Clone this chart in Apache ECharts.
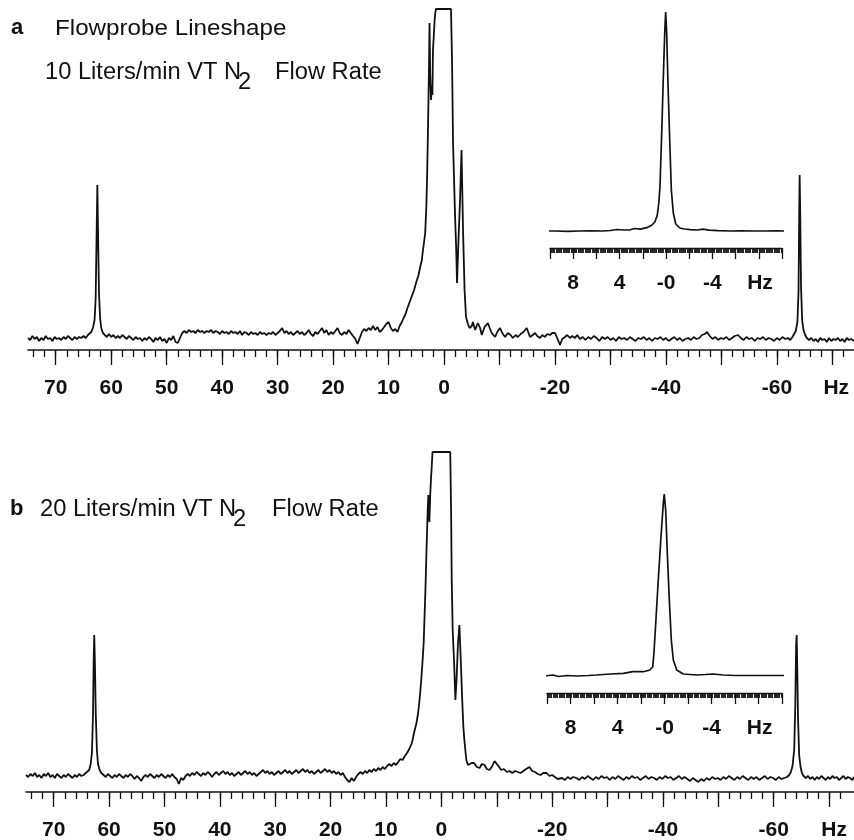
<!DOCTYPE html>
<html>
<head>
<meta charset="utf-8">
<script src="https://cdn.jsdelivr.net/npm/echarts@6/dist/echarts.min.js"></script>
<style>
html,body{margin:0;padding:0;background:#fff;}
#chart{width:854px;height:840px;}
</style>
</head>
<body>
<div id="chart"></div>
<script>
// ---------- data (Hz, intensity above baseline) ----------
const specA = [
[75.0,-2],[74.6,-4],[74.2,0],[73.8,-3],[73.4,-1],[73.0,-5],[72.6,-2],[72.2,-4],[71.8,0],[71.4,-3],[71.0,-2],[70.6,-5],[70.2,-1],[69.8,-3],[69.4,-2],[69.0,-4],[68.6,-1],[68.2,-3],[67.8,0],[67.4,-2],[67.0,-4],[66.6,-1],[66.2,-3],[65.8,-1],[65.4,-2],[65.0,0],[64.6,-2],[64.2,1],[63.9,2],
[63.6,4],[63.3,8],[63.0,16],[62.8,38],[62.65,95],[62.5,151],[62.38,105],[62.2,42],[62.0,18],[61.8,8],[61.5,3],
[61.2,1],[60.8,-1],[60.4,2],[60.0,-1],[59.6,1],[59.2,-2],[58.8,0],[58.4,-2],[58.0,1],[57.6,-1],[57.2,-3],[56.8,0],[56.4,-2],[56.0,-4],[55.6,-1],[55.2,-3],[54.8,-2],[54.4,-5],[54.0,-2],[53.6,-4],[53.2,-1],[52.8,-3],[52.4,-6],[52.0,-2],[51.6,-4],[51.2,-1],[50.8,-5],[50.4,-3],[50.0,-7],[49.6,-2],[49.2,-4],[48.8,0],[48.4,-6],[48.0,-7],[47.6,-2],[47.2,3],
[46.8,5],[46.4,3],[46.0,6],[45.6,4],[45.2,5],[44.8,3],[44.4,6],[44.0,4],[43.6,5],[43.2,3],[42.8,5],[42.4,4],[42.0,6],[41.6,3],[41.2,5],[40.8,4],[40.4,2],[40.0,5],[39.6,3],[39.2,4],[38.8,2],[38.4,5],[38.0,3],[37.6,4],[37.2,2],[36.8,5],[36.4,1],[36.0,4],[35.6,3],[35.2,1],[34.8,4],[34.4,2],[34.0,3],[33.6,1],[33.2,4],[32.8,2],[32.4,3],[32.0,1],[31.6,3],[31.2,2],[30.8,4],[30.4,1],[30.0,3],[29.6,5],[29.2,8],[28.8,3],[28.4,5],[28.0,2],[27.6,4],[27.2,1],[26.8,3],[26.4,5],[26.0,2],[25.6,4],[25.2,1],[24.8,3],[24.4,6],[24.0,2],[23.6,0],[23.2,4],[22.8,2],[22.4,5],[22.0,8],[21.6,3],[21.2,6],[20.8,1],[20.4,4],[20.0,2],[19.6,5],[19.2,8],[18.8,3],[18.4,1],[18.0,4],[17.6,2],[17.2,6],[16.8,3],[16.4,0],[16.0,-3],[15.6,-8],[15.2,-2],[14.8,4],[14.4,7],[14.0,5],[13.6,8],[13.2,6],[12.8,10],[12.4,6],[12.0,9],[11.6,4],[11.2,6],[10.8,9],[10.4,12],[10.0,14],[9.6,8],[9.2,5],[8.8,7],[8.4,4],[8.0,10],[7.6,14],[7.3,18],[7.0,21],[6.6,28],[6.2,34],[5.8,40],[5.4,46],[5.0,54],[4.6,61],[4.3,69],[4.0,76],[3.8,86],[3.6,94],[3.4,103],[3.2,128],[3.05,160],[2.9,205],[2.8,240],[2.7,275],[2.62,313],[2.5,262],[2.35,236],[2.2,250],[2.1,241],[2.0,286],[1.85,300],[1.7,316],[1.55,324],[1.45,327],
[-1.25,327],[-1.44,276],[-1.62,193],[-1.98,121],[-2.2,85],[-2.34,53],[-2.6,96],[-2.88,136],[-3.15,186],[-3.42,106],[-3.7,46],[-3.96,19],[-4.3,12],[-4.6,8],[-5.0,10],[-5.2,14],[-5.6,6],[-5.9,4],[-6.1,13],[-6.5,8],[-6.8,1],[-7.3,9],[-7.9,13],[-8.3,7],[-8.6,3],[-9.2,-1],[-9.6,4],[-10.1,8],[-10.5,3],[-11.0,-1],[-11.5,3],[-12.0,1],[-12.4,-2],[-12.9,1],[-13.3,-1],[-13.8,2],[-14.3,4],[-14.9,8],[-15.3,2],[-15.5,-1],[-16.0,1],[-16.4,3],[-16.8,0],[-17.3,-2],[-17.7,1],[-18.2,-1],[-18.6,2],[-19.1,1],[-19.5,3],[-20.0,3],[-20.4,-2],[-20.9,-9],[-21.3,-3],[-21.8,-1],[-22.2,1],[-22.7,-2],[-23.1,0],[-23.6,-2],[-24.0,1],[-24.5,-3],[-25.0,-1],[-25.5,-4],[-26.0,-1],[-26.5,-3],[-27.0,0],[-27.5,-2],[-28.0,-5],[-28.5,-1],[-29.0,-3],[-29.5,-1],[-30.0,-4],[-30.5,-2],[-31.0,-5],[-31.5,-1],[-32.0,-3],[-32.5,-2],[-33.0,-4],[-33.5,-1],[-34.0,-3],[-34.5,-5],[-35.0,-2],[-35.5,-3],[-36.0,-1],[-36.5,-4],[-37.0,-2],[-37.5,-5],[-38.0,-2],[-38.5,-3],[-39.0,-1],[-39.5,-4],[-40.0,-2],[-40.5,-5],[-41.0,-3],[-41.5,-1],[-42.0,-4],[-42.5,-2],[-43.0,-5],[-43.5,-3],[-44.0,-2],[-44.5,-4],[-45.0,-1],[-45.5,-3],[-46.0,-2],[-46.5,1],[-47.0,2],[-47.4,4],[-47.9,0],[-48.4,-3],[-48.9,-1],[-49.4,-4],[-49.9,-2],[-50.4,-3],[-50.9,-1],[-51.4,-4],[-51.9,-2],[-52.4,0],[-53.0,1],[-53.5,-2],[-54.0,-4],[-54.5,-1],[-55.0,-3],[-55.5,-2],[-56.0,-5],[-56.5,-2],[-57.0,-3],[-57.5,-1],[-58.0,-4],[-58.5,-2],[-59.0,-3],[-59.5,-5],[-60.0,-2],[-60.5,-4],[-61.0,-1],[-61.5,-3],[-62.0,-2],[-62.4,-4],[-62.8,-1],[-63.1,1],[-63.4,5],[-63.7,14],[-63.9,45],[-64.02,120],[-64.1,161],[-64.2,125],[-64.35,50],[-64.55,16],[-64.8,6],[-65.1,1],[-65.4,-2],[-65.8,-4],[-66.2,-2],[-66.6,-5],[-67.0,-3],[-67.4,-6],[-67.8,-2],[-68.2,-4],[-68.6,-3],[-69.0,-6],[-69.4,-2],[-69.8,-5],[-70.2,-3],[-70.6,-4],[-71.0,-2],[-71.4,-5],[-71.8,-3],[-72.2,-6],[-72.6,-2],[-73.0,-4],[-73.4,-3],[-73.9,-5]
];

const specB = [
[75.0,0],[74.6,-2],[74.2,1],[73.8,-1],[73.4,2],[73.0,-2],[72.6,0],[72.2,-3],[71.8,1],[71.4,-1],[71.0,2],[70.6,-2],[70.2,0],[69.8,-3],[69.4,1],[69.0,-1],[68.6,-3],[68.2,0],[67.8,-2],[67.4,1],[67.0,-1],[66.6,-3],[66.2,0],[65.8,-2],[65.4,1],[65.0,-1],[64.6,0],[64.2,2],[63.9,3],
[63.6,5],[63.35,10],[63.1,22],[62.9,60],[62.78,115],[62.68,140],[62.55,110],[62.4,60],[62.2,25],[62.0,11],[61.7,5],[61.4,2],
[61.0,0],[60.6,-2],[60.2,1],[59.8,-1],[59.4,-3],[59.0,0],[58.6,-2],[58.2,1],[57.8,-1],[57.4,-3],[57.0,0],[56.6,-2],[56.2,1],[55.8,-1],[55.4,-4],[55.0,-1],[54.6,-3],[54.2,-6],[53.8,-2],[53.4,0],[53.0,-2],[52.6,1],[52.2,-1],[51.8,-3],[51.4,0],[51.0,-2],[50.6,1],[50.2,-1],[49.8,-3],[49.4,0],[49.0,-2],[48.6,1],[48.2,-2],[47.8,-4],[47.4,-9],[47.0,-3],[46.6,-5],[46.2,-1],[45.8,1],[45.4,-1],[45.0,2],[44.6,0],[44.2,3],[43.8,1],[43.4,-1],[43.0,2],[42.6,0],[42.2,3],[41.8,1],[41.4,-2],[41.0,1],[40.6,3],[40.2,0],[39.8,2],[39.4,4],[39.0,1],[38.6,3],[38.2,0],[37.8,2],[37.4,-1],[37.0,1],[36.6,3],[36.2,0],[35.8,2],[35.4,4],[35.0,1],[34.6,3],[34.2,0],[33.8,2],[33.4,-1],[33.0,1],[32.6,3],[32.2,5],[31.8,2],[31.4,4],[31.0,1],[30.6,3],[30.2,0],[29.8,2],[29.4,4],[29.0,1],[28.6,3],[28.2,5],[27.8,2],[27.4,4],[27.0,1],[26.6,3],[26.2,5],[25.8,2],[25.4,4],[25.0,6],[24.6,3],[24.2,5],[23.8,2],[23.4,4],[23.0,1],[22.6,3],[22.2,5],[21.8,2],[21.4,4],[21.0,6],[20.6,3],[20.2,5],[19.8,2],[19.4,4],[19.0,1],[18.6,3],[18.2,0],[17.8,2],[17.4,-2],[17.0,-5],[16.6,-7],[16.2,-3],[15.8,-6],[15.4,-2],[15.0,1],[14.6,3],[14.2,1],[13.8,4],[13.4,2],[13.0,5],[12.6,3],[12.2,6],[11.8,4],[11.4,7],[11.0,5],[10.6,8],[10.2,6],[9.8,9],[9.4,11],[9.0,9],[8.6,12],[8.2,10],[7.8,13],[7.4,16],[7.0,15],[6.6,19],[6.2,22],[5.8,26],[5.4,31],[5.2,35],[4.9,43],[4.5,52],[4.2,62],[4.0,72],[3.8,84],[3.6,98],[3.4,114],[3.2,132],[3.05,157],[2.9,182],[2.77,207],[2.65,232],[2.47,265],[2.35,280],[2.25,262],[2.17,253],[2.0,282],[1.88,296],[1.75,308],[1.6,323],
[-1.6,323],[-1.75,265],[-1.86,198],[-2.04,145],[-2.3,112],[-2.53,75],[-2.76,98],[-3.0,132],[-3.25,150],[-3.5,115],[-3.74,78],[-3.97,48],[-4.15,35],[-4.5,15],[-4.8,10],[-5.05,8],[-5.5,12],[-5.9,12],[-6.4,8],[-6.9,7],[-7.3,11],[-7.8,10],[-8.2,6],[-8.7,5],[-9.2,9],[-9.6,14],[-9.9,15],[-10.3,9],[-10.8,5],[-11.3,6],[-11.8,3],[-12.3,4],[-12.8,2],[-13.3,4],[-13.8,3],[-14.3,2],[-14.8,4],[-15.3,6],[-15.9,8],[-16.4,4],[-16.9,3],[-17.4,1],[-17.9,0],[-18.4,2],[-19.0,2],[-19.5,-1],[-20.0,0],[-20.5,-2],[-21.0,-4],[-21.3,-5],[-21.8,-3],[-22.3,-5],[-22.8,-2],[-23.3,-4],[-23.8,-2],[-24.4,-3],[-24.9,-5],[-25.4,-2],[-25.9,-4],[-26.4,-1],[-26.9,-3],[-27.4,-5],[-27.9,-2],[-28.4,-4],[-28.9,-1],[-29.4,-3],[-29.9,-2],[-30.4,-5],[-30.9,-2],[-31.4,-4],[-31.9,-1],[-32.4,-3],[-32.9,-5],[-33.4,-2],[-33.9,-4],[-34.4,-1],[-34.9,-3],[-35.4,-2],[-35.9,-5],[-36.4,-3],[-36.9,-1],[-37.4,-4],[-37.9,-2],[-38.4,-3],[-38.9,-5],[-39.4,-2],[-39.9,-4],[-40.4,-1],[-40.9,-3],[-41.4,-2],[-41.9,-5],[-42.4,-3],[-42.9,-1],[-43.4,-4],[-43.9,-2],[-44.4,-4],[-44.9,-6],[-45.4,-3],[-45.9,-5],[-46.4,-7],[-46.9,-4],[-47.4,-6],[-47.9,-3],[-48.4,-5],[-48.9,-2],[-49.4,-4],[-49.9,-3],[-50.4,-5],[-50.9,-2],[-51.4,-4],[-51.9,-1],[-52.4,-3],[-52.9,-5],[-53.4,-2],[-53.9,-4],[-54.4,-1],[-54.9,-3],[-55.4,-5],[-55.9,-2],[-56.4,-4],[-56.9,-2],[-57.4,-5],[-57.9,-3],[-58.4,-1],[-58.9,-4],[-59.4,-2],[-59.9,-3],[-60.4,-5],[-60.9,-2],[-61.4,-4],[-61.9,-3],[-62.4,-2],[-62.8,0],[-63.1,3],[-63.4,9],[-63.7,25],[-63.9,70],[-64.05,130],[-64.15,140],[-64.25,110],[-64.4,55],[-64.6,20],[-64.85,8],[-65.1,2],[-65.4,-1],[-65.8,-3],[-66.2,-1],[-66.6,-4],[-67.0,-2],[-67.4,-5],[-67.8,-2],[-68.2,-4],[-68.6,-1],[-69.0,-3],[-69.4,-5],[-69.8,-2],[-70.2,-4],[-70.6,-1],[-71.0,-3],[-71.4,-2],[-71.8,-5],[-72.2,-3],[-72.6,-1],[-73.0,-4],[-73.4,-2],[-73.8,-3],[-74.2,-5],[-74.5,-2]
];

const insetA = [
[10.3,0],[9.5,0],[8.5,-0.3],[7.5,0],[6.5,0.2],[5.5,0],[4.8,0.5],[4.2,1.5],[3.6,1],[3.1,1.2],[2.7,2.5],[2.2,1.8],[1.66,3.3],[1.23,5.7],[0.95,9.3],[0.75,16],[0.62,28],[0.52,44],[0.37,98],[0.23,154],[0.11,198],[0.03,219],[-0.06,198],[-0.17,148],[-0.32,91],[-0.46,41],[-0.63,18],[-0.84,7],[-1.2,3],[-1.6,2],[-2.1,1.3],[-2.7,1],[-3.2,1.8],[-3.7,0.8],[-4.5,0.3],[-5.5,0],[-6.5,0.2],[-7.5,0],[-8.5,0],[-9.5,0.2],[-10.2,0]
];

const insetB = [
[10.3,-1],[9.5,0],[9.0,-1.5],[8.3,-0.5],[7.5,-1],[6.5,-0.5],[5.8,0],[4.6,1],[3.5,1.7],[2.7,3.3],[1.8,3.3],[1.24,5],[1.0,8],[0.9,21.7],[0.73,55],[0.53,95],[0.3,138],[0.1,172],[0.02,181],[-0.1,165],[-0.24,122],[-0.41,75],[-0.58,35],[-0.75,15],[-1.04,5],[-1.6,1],[-2.75,0],[-3.5,0.5],[-4.15,1],[-5.0,0],[-6.0,-0.5],[-7.5,-0.5],[-9.0,-0.5],[-10.2,-0.5]
];

// ---------- ticks & labels ----------
const mainMinorTicks = [74,72,70,68,66,64,62,60,58,56,54,52,50,48,46,44,42,40,38,36,34,32,30,28,26,24,22,20,18,16,14,12,10,8,6,4,2,0,-2,-4,-6,-8,-10,-12,-14,-16,-18,-20,-22,-24,-26,-28,-30,-32,-34,-36,-38,-40,-42,-44,-46,-48,-50,-52,-54,-56,-58,-60,-62,-64,-66,-68,-70,-72];
const mainMajorTicks = [70,60,50,40,30,20,10,0,-10,-20,-30,-40,-50,-60,-70];
const mainLabelValues = [70,60,50,40,30,20,10,0,-20,-40,-60];
const hzPosA = -70.7;
const hzPosB = -70.9;
const insetLabelValues = [8,4,0,-4];
const insetHzPos = -8.1;

const FONT = '"Liberation Sans", Arial, Helvetica, sans-serif';
const BLACK = '#111';

function mainAxes(gridIndex, min, max, hzPos) {
  return [
    {
      type: 'value', gridIndex, min, max, inverse: true, position: 'bottom',
      axisLine: { show: true, onZero: false, lineStyle: { color: BLACK, width: 1.6 } },
      axisTick: { show: true, customValues: mainMinorTicks, length: 7, lineStyle: { color: BLACK, width: 1.3 } },
      axisLabel: { show: false }, splitLine: { show: false }
    },
    {
      type: 'value', gridIndex, min, max, inverse: true, position: 'bottom', offset: 0,
      axisLine: { show: false, onZero: false },
      axisTick: { show: true, customValues: mainMajorTicks, length: 15, lineStyle: { color: BLACK, width: 1.3 } },
      axisLabel: {
        show: true, customValues: mainLabelValues.concat([hzPos]),
        fontFamily: FONT, fontWeight: 'bold', fontSize: 21, color: BLACK,
        margin: 38, verticalAlign: 'middle',
        formatter: v => (Math.abs(v - hzPos) < 0.01 ? 'Hz' : String(v))
      },
      splitLine: { show: false }
    }
  ];
}

function insetAxis(gridIndex) {
  return {
    type: 'value', gridIndex, min: -10, max: 10, interval: 2, inverse: true, position: 'bottom',
    axisLine: { show: true, onZero: false, lineStyle: { color: BLACK, width: 1.4 } },
    axisTick: { show: true, length: 11, lineStyle: { color: BLACK, width: 1.3 } },
    minorTick: { show: true, splitNumber: 20, length: 5, lineStyle: { color: BLACK, width: 0.9 } },
    axisLabel: {
      show: true, customValues: insetLabelValues.concat([insetHzPos]),
      fontFamily: FONT, fontWeight: 'bold', fontSize: 21, color: BLACK,
      margin: 35, verticalAlign: 'middle',
      formatter: v => (Math.abs(v - insetHzPos) < 0.01 ? 'Hz' : (v === 0 ? '-0' : String(v)))
    },
    splitLine: { show: false }
  };
}

const xAxes = [].concat(
  mainAxes(0, -73.9, 75, hzPosA),
  [insetAxis(1)],
  mainAxes(2, -74.5, 75, hzPosB),
  [insetAxis(3)]
);

const yAxes = [
  { type: 'value', gridIndex: 0, min: -14, max: 327, show: false },
  { type: 'value', gridIndex: 1, min: -17, max: 221, show: false },
  { type: 'value', gridIndex: 2, min: -17, max: 323, show: false },
  { type: 'value', gridIndex: 3, min: -18, max: 190, show: false }
];

const lineSeries = (data, xi, yi, w) => ({
  type: 'line', data, xAxisIndex: xi, yAxisIndex: yi,
  showSymbol: false, symbol: 'none', smooth: false,
  lineStyle: { color: BLACK, width: w }, clip: true, silent: true
});

const textEl = (x, y, text, size, bold, sx) => ({
  type: 'text', x, y, scaleX: sx || 1,
  style: { text, fill: BLACK, font: (bold ? 'bold ' : '') + size + 'px ' + FONT, align: 'left', verticalAlign: 'middle' }
});

const gridBase = { outerBoundsMode: 'none', containLabel: false };

const option = {
  backgroundColor: '#fff',
  animation: false,
  grid: [
    Object.assign({ left: 28, top: 9, width: 826, height: 341 }, gridBase),
    Object.assign({ left: 550, top: 10, width: 232, height: 238 }, gridBase),
    Object.assign({ left: 26, top: 452, width: 828, height: 340 }, gridBase),
    Object.assign({ left: 547, top: 485, width: 235, height: 208 }, gridBase)
  ],
  xAxis: xAxes,
  yAxis: yAxes,
  series: [
    lineSeries(specA, 0, 0, 1.8),
    lineSeries(insetA, 2, 1, 1.7),
    lineSeries(specB, 3, 2, 1.8),
    lineSeries(insetB, 5, 3, 1.7)
  ],
  graphic: [
    textEl(11, 28, 'a', 22, true),
    textEl(55, 29, 'Flowprobe Lineshape', 22, false, 1.1),
    textEl(45, 73, '10 Liters/min VT N', 23, false, 1.03),
    textEl(238, 83, '2', 23, false, 1.03),
    textEl(275, 73, 'Flow Rate', 23, false, 1.03),
    textEl(10, 509, 'b', 22, true),
    textEl(40, 510, '20 Liters/min VT N', 23, false, 1.03),
    textEl(233, 520, '2', 23, false, 1.03),
    textEl(272, 510, 'Flow Rate', 23, false, 1.03)
  ]
};

const chart = echarts.init(document.getElementById('chart'), null, { renderer: 'canvas' });
chart.setOption(option);
</script>
</body>
</html>
